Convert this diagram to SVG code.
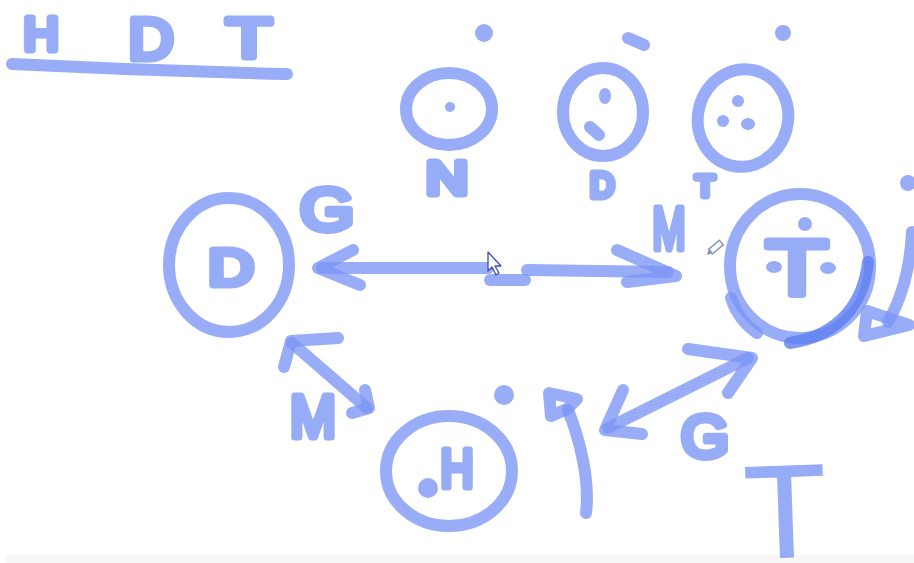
<svg xmlns="http://www.w3.org/2000/svg" width="914" height="563" viewBox="0 0 914 563">
<style>
.s{fill:none;stroke:#7b95f5;stroke-width:12;stroke-linecap:round;stroke-linejoin:round;opacity:0.78}
.d{fill:none;stroke:#5f7ff0;stroke-width:12;stroke-linecap:round;opacity:0.8}
.f{fill:#7b95f5;opacity:0.78}
.lt{font-family:"Liberation Sans",Arial,sans-serif;font-weight:normal;fill:#7b95f5;stroke:#7b95f5;stroke-width:7;stroke-linejoin:round;stroke-linecap:round;opacity:0.78;text-anchor:middle}
</style>
<rect width="914" height="563" fill="#ffffff"/>
<rect x="6" y="555" width="908" height="8" fill="#f7f7fa"/>

<g id="heading">
<text class="lt" x="41" y="49.5" font-size="47" textLength="35" lengthAdjust="spacingAndGlyphs">H</text>
<text class="lt" x="151" y="58.5" font-size="58" textLength="45" lengthAdjust="spacingAndGlyphs">D</text>
<text class="lt" x="249" y="56.5" font-size="56" textLength="45" lengthAdjust="spacingAndGlyphs">T</text>
<path class="s" d="M12,64 Q150,71 287,74" stroke-width="10"/>
</g>

<g id="node-N">
<ellipse class="s" cx="449" cy="109" rx="43" ry="36"/>
<circle class="f" cx="450" cy="107" r="5"/>
<circle class="f" cx="484" cy="33" r="9"/>
<text class="lt" x="447" y="193.5" font-size="46" textLength="42" lengthAdjust="spacingAndGlyphs">N</text>
</g>

<g id="node-D2">
<ellipse class="s" cx="603" cy="112" rx="40" ry="44"/>
<ellipse class="f" cx="605" cy="96" rx="6" ry="8"/>
<path class="s" d="M590,127 L599,135" stroke-width="11"/>
<path class="s" d="M628,38 L644,45" stroke-width="11"/>
<text class="lt" x="602" y="196.5" font-size="35" textLength="24" lengthAdjust="spacingAndGlyphs">D</text>
</g>

<g id="node-T3">
<ellipse class="s" cx="743" cy="118" rx="45" ry="49" transform="rotate(15 743 118)"/>
<circle class="f" cx="738" cy="101" r="6"/>
<circle class="f" cx="723" cy="121" r="6"/>
<ellipse class="f" cx="748" cy="124" rx="7" ry="6"/>
<circle class="f" cx="783" cy="33" r="8"/>
<text class="lt" x="705" y="196" font-size="30" textLength="19" lengthAdjust="spacingAndGlyphs">T</text>
</g>

<g id="node-D">
<ellipse class="s" cx="229" cy="265" rx="60" ry="67"/>
<text class="lt" x="231" y="284.5" font-size="50" textLength="45" lengthAdjust="spacingAndGlyphs">D</text>
</g>

<g id="node-T">
<ellipse class="s" cx="800" cy="266" rx="70" ry="72"/>
<path class="d" d="M868,262 C864,300 842,335 790,343"/>
<path class="s" d="M731,298 Q738,320 757,333"/>
<text class="lt" x="797" y="294.5" font-size="78" textLength="62" lengthAdjust="spacingAndGlyphs">T</text>
<circle class="f" cx="805" cy="224" r="7"/>
<ellipse class="f" cx="774" cy="267" rx="8" ry="6"/>
<ellipse class="f" cx="828" cy="268" rx="8" ry="6"/>
<circle class="f" cx="908" cy="183" r="8"/>
</g>

<g id="node-H">
<ellipse class="s" cx="449" cy="471" rx="63" ry="55"/>
<text class="lt" x="457" y="486.5" font-size="53" textLength="33" lengthAdjust="spacingAndGlyphs">H</text>
<circle class="f" cx="428" cy="488" r="10"/>
<circle class="f" cx="504" cy="395" r="10"/>
</g>

<g id="labels">
<text class="lt" x="327" y="229.5" font-size="60" textLength="54" lengthAdjust="spacingAndGlyphs">G</text>
<text class="lt" x="669" y="248.5" font-size="60" textLength="33" lengthAdjust="spacingAndGlyphs">M</text>
<text class="lt" x="313" y="436.5" font-size="60" textLength="46" lengthAdjust="spacingAndGlyphs">M</text>
<text class="lt" x="705" y="456.5" font-size="60" textLength="48" lengthAdjust="spacingAndGlyphs">G</text>
<text x="785" y="557" font-size="132" textLength="82" lengthAdjust="spacingAndGlyphs" font-family="Liberation Sans, Arial, sans-serif" fill="#7b95f5" stroke="#7b95f5" stroke-width="1.5" opacity="0.78" text-anchor="middle" transform="rotate(-2 785 500)">T</text>
</g>

<g id="connectors">
<path class="s" d="M322,268 L488,268"/>
<path class="s" d="M490,280 L525,280" stroke-width="11"/>
<path class="s" d="M527,270 L668,272"/>
<polyline class="s" points="353,250 318,268 360,285"/>
<polyline class="s" points="617,250 676,276 627,282"/>
<path class="s" d="M292,343 L367,408"/>
<polyline class="s" points="338,338 291,341 284,367"/>
<polyline class="s" points="365,390 369,408 352,413"/>
<path class="s" d="M608,428 L748,358"/>
<polyline class="s" points="688,349 752,358 728,393"/>
<polyline class="s" points="623,390 605,430 642,434"/>
<path class="s" d="M568,410 C580,440 590,480 586,513"/>
<polygon class="s" points="549,393 577,399 567,409 551,416" fill="#7b95f5"/>
<path class="s" d="M912,232 C910,270 902,298 888,322"/>
<polygon class="s" points="867,311 909,325 864,336" stroke-width="11"/>
</g>

<g id="ui">
<polygon points="488,252 488,271 492,267 496,275 499,273 495,266 501,266" fill="#ffffff" stroke="#3a4fb0" stroke-width="1.3" stroke-linejoin="round"/>
<g transform="rotate(-40 716 247)">
<rect x="709" y="244" width="14" height="6" fill="none" stroke="#8a96b8" stroke-width="1.5"/>
<polygon points="709,244 704,247 709,250" fill="#8a96b8"/>
</g>
</g>
</svg>
